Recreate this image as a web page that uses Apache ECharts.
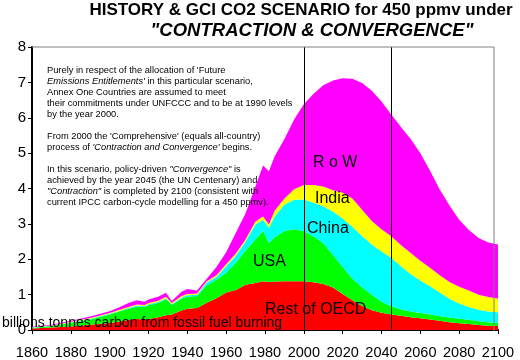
<!DOCTYPE html>
<html>
<head>
<meta charset="utf-8">
<script src="https://cdn.jsdelivr.net/npm/echarts@6/dist/echarts.min.js"></script>
<style>html,body{margin:0;padding:0;background:#fff}#c{width:520px;height:360px}</style>
</head>
<body>
<div id="c"></div>
<script>
// Years (x values shared by all series)
var years = [1860,1870,1880,1890,1900,1905,1910,1914,1918,1920,1925,1929,1932,1937,1940,1945,1950,1955,1960,1965,1970,1975,1979,1982,1985,1990,1995,2000,2005,2010,2015,2020,2025,2030,2035,2040,2045,2050,2055,2060,2065,2070,2075,2080,2085,2090,2095,2100];
// Emissions by region, billions tonnes carbon (stack bands, bottom to top)
var restOfOECD = [0.04,0.07,0.10,0.15,0.20,0.24,0.28,0.31,0.30,0.31,0.36,0.42,0.44,0.55,0.60,0.62,0.77,0.90,1.06,1.13,1.28,1.33,1.38,1.36,1.37,1.38,1.38,1.38,1.35,1.30,1.20,1.02,0.84,0.68,0.56,0.49,0.44,0.40,0.36,0.33,0.30,0.26,0.22,0.19,0.17,0.14,0.12,0.11];
var usa        = [0.02,0.04,0.10,0.15,0.24,0.28,0.32,0.35,0.35,0.39,0.40,0.45,0.26,0.33,0.34,0.34,0.49,0.52,0.56,0.77,0.97,1.23,1.42,1.10,1.25,1.42,1.47,1.41,1.30,1.15,0.92,0.76,0.61,0.52,0.44,0.31,0.23,0.18,0.16,0.15,0.14,0.13,0.13,0.13,0.12,0.11,0.10,0.09];
var china      = [0.01,0.01,0.01,0.02,0.02,0.02,0.03,0.03,0.03,0.03,0.03,0.03,0.03,0.04,0.04,0.04,0.08,0.08,0.18,0.20,0.25,0.42,0.32,0.43,0.59,0.75,0.83,0.90,0.95,1.05,1.23,1.37,1.47,1.46,1.42,1.42,1.37,1.22,1.06,0.92,0.80,0.67,0.53,0.43,0.36,0.32,0.30,0.30];
var india      = [0.01,0.01,0.02,0.02,0.02,0.03,0.03,0.03,0.03,0.03,0.04,0.04,0.03,0.04,0.04,0.03,0.04,0.05,0.06,0.06,0.06,0.08,0.09,0.09,0.17,0.17,0.30,0.41,0.50,0.56,0.60,0.73,0.80,0.74,0.66,0.63,0.61,0.60,0.60,0.56,0.52,0.49,0.48,0.47,0.47,0.43,0.41,0.39];
var row        = [0.01,0.02,0.03,0.04,0.05,0.07,0.11,0.12,0.09,0.10,0.11,0.11,0.06,0.12,0.14,0.09,0.07,0.23,0.34,0.59,0.74,0.99,1.44,1.51,1.53,1.68,1.97,2.28,2.58,2.86,3.10,3.24,3.38,3.58,3.68,3.61,3.44,3.34,3.22,3.04,2.74,2.42,2.16,1.90,1.71,1.60,1.54,1.53];
var seriesNames = ['Rest of OECD','USA','China','India','R o W'];
var seriesColors = ['#ff0000','#00ff00','#00ffff','#ffff00','#ff00ff'];
var markerYears = [2000, 2045];

var FONT = '"Liberation Sans", Arial, sans-serif';
// value first, year second, so the library stacks the value dimension
function pairs(v){ return years.map(function(y,i){ return [v[i], y]; }); }
var allData = [restOfOECD, usa, china, india, row];

var series = allData.map(function(d, i){
  var s = {
    name: seriesNames[i], type: 'line', stack: 'total', data: pairs(d),
    encode: {x: 1, y: 0},
    symbol: 'none', lineStyle: {width: 0}, areaStyle: {color: seriesColors[i], opacity: 1},
    itemStyle: {color: seriesColors[i]}, silent: true, animation: false, z: 2
  };
  if (i === 4) {
    s.markLine = {
      silent: true, symbol: ['none','none'], label: {show: false},
      lineStyle: {color: '#000', width: 1, type: 'solid'},
      data: markerYears.map(function(y){ return {xAxis: y}; }),
      animation: false
    };
  }
  return s;
});

function txt(x, y, text, font, align) {
  return {type: 'text', x: x, y: y, z: 50, silent: true,
    style: {text: text, font: font, fill: '#000', textAlign: align || 'left', textVerticalAlign: 'middle'}};
}
var nf = '9.3px ' + FONT, itf = 'italic 9.3px ' + FONT;
function richLine(x, y, parts) {
  return {type: 'text', x: x, y: y, z: 50, silent: true,
    style: {text: parts, font: nf, fill: '#000', textVerticalAlign: 'middle',
      rich: {i: {font: itf, fill: '#000'}, n: {font: nf, fill: '#000'}}}};
}

var chart = echarts.init(document.getElementById('c'), null, {renderer: 'canvas'});
chart.setOption({
  animation: false,
  backgroundColor: '#fff',
  textStyle: {fontFamily: FONT},
  grid: {left: 32, right: 22, top: 47, bottom: 29, show: false},
  xAxis: {
    type: 'value', min: 1860, max: 2100, interval: 20,
    axisLine: {show: true, onZero: false, lineStyle: {color: '#000', width: 2}},
    axisTick: {show: true, length: 4, lineStyle: {color: '#000'}},
    axisLabel: {color: '#000', fontSize: 14.5, margin: 15, fontFamily: FONT, formatter: function(v){ return String(v); }},
    splitLine: {show: false}
  },
  yAxis: {
    type: 'value', min: 0, max: 8, interval: 1,
    axisLine: {show: true, lineStyle: {color: '#000', width: 2}},
    axisTick: {show: true, length: 4, lineStyle: {color: '#000'}},
    axisLabel: {color: '#000', fontSize: 15, margin: 6, fontFamily: FONT},
    splitLine: {show: false}
  },
  series: series,
  graphic: [
    {type: 'line', z: 40, silent: true, shape: {x1: 32, y1: 47, x2: 494, y2: 47}, style: {stroke: '#808080', lineWidth: 1}},
    {type: 'line', z: 40, silent: true, shape: {x1: 494, y1: 47, x2: 494, y2: 331}, style: {stroke: '#808080', lineWidth: 1}},
    txt(301, 10, 'HISTORY & GCI CO2 SCENARIO for 450 ppmv under', 'bold 17px ' + FONT, 'center'),
    txt(312, 30.5, '"CONTRACTION & CONVERGENCE"', 'italic bold 18.5px ' + FONT, 'center'),
    txt(47, 70, "Purely in respect of the allocation of 'Future", nf),
    richLine(47, 81, "{i|Emissions Entitlements'}{n| in this particular scenario,}"),
    txt(47, 92, 'Annex One Countries are assumed to meet', nf),
    txt(47, 103, 'their commitments under UNFCCC and to be at 1990 levels', nf),
    txt(47, 114, 'by the year 2000.', nf),
    txt(47, 136, "From 2000 the 'Comprehensive' (equals all-country)", nf),
    richLine(47, 147, "{n|process of }{i|'Contraction and Convergence'}{n| begins.}"),
    richLine(47, 169, "{n|In this scenario, policy-driven }{i|\"Convergence\"}{n| is}"),
    txt(47, 180, 'achieved by the year 2045 (the UN Centenary) and', nf),
    richLine(47, 191, "{i|\"Contraction\"}{n| is completed by 2100 (consistent with}"),
    txt(47, 202, 'current IPCC carbon-cycle modelling for a 450 ppmv).', nf),
    txt(313, 163, 'R o W', '16px ' + FONT),
    txt(315, 199, 'India', '16px ' + FONT),
    txt(307, 229, 'China', '16px ' + FONT),
    txt(253, 262, 'USA', '16px ' + FONT),
    txt(265, 310, 'Rest of OECD', '16px ' + FONT),
    txt(2, 323, 'billions tonnes carbon from fossil fuel burning', '14px ' + FONT)
  ]
});
</script>
</body>
</html>
